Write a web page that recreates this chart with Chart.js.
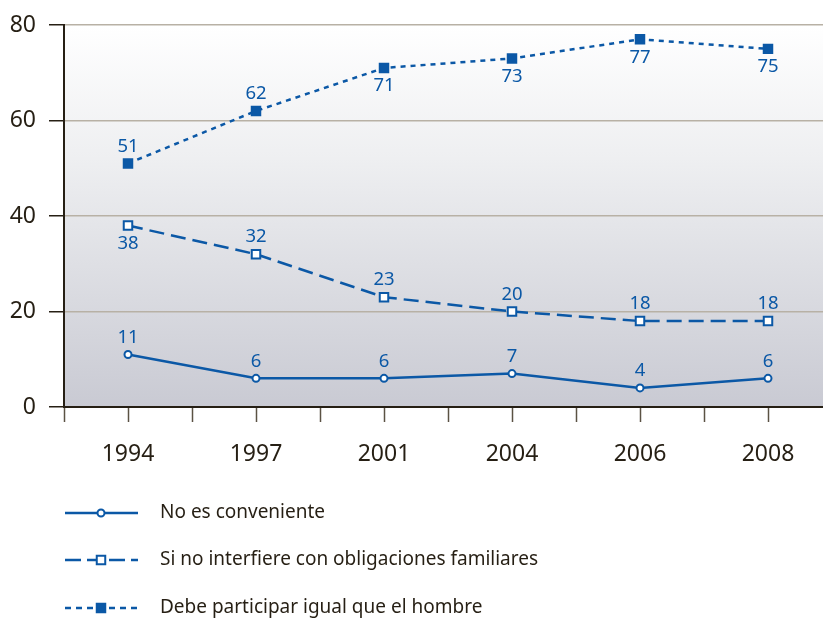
<!DOCTYPE html>
<html>
<head>
<meta charset="utf-8">
<script src="https://cdn.jsdelivr.net/npm/chart.js@4/dist/chart.umd.min.js"></script>
<style>
  html, body { margin: 0; padding: 0; background: #ffffff; }
  #wrap { width: 823px; height: 620px; position: relative; }
</style>
</head>
<body>
<div id="wrap"><canvas id="chart" width="823" height="620"></canvas></div>
<script>
// Survey years on the horizontal axis
const years = ['1994', '1997', '2001', '2004', '2006', '2008'];

// Percentages per answer
const noConveniente = [11, 6, 6, 7, 4, 6];
const siNoInterfiere = [38, 32, 23, 20, 18, 18];
const debeParticipar = [51, 62, 71, 73, 77, 75];

// Series names
const seriesNames = [
  'No es conveniente',
  'Si no interfiere con obligaciones familiares',
  'Debe participar igual que el hombre'
];

// Value-axis ticks
const yTicks = [0, 20, 40, 60, 80];

const BLUE = '#0b58a6';
const INK = '#261f14';
const FONT = '"Noto Sans", "Open Sans", sans-serif';

// Where each series puts its value labels relative to the point
const labelSide = [
  ['up', 'up', 'up', 'up', 'up', 'up'],
  ['down', 'up', 'up', 'up', 'up', 'up'],
  ['up', 'up', 'down', 'down', 'down', 'down']
];

const toPoints = arr => arr.map((v, i) => ({ x: i, y: v }));

// Soft vertical gradient behind the plot
const plotBackground = {
  id: 'plotBackground',
  beforeDraw(chart) {
    const { ctx, chartArea: a } = chart;
    const g = ctx.createLinearGradient(0, a.top, 0, a.bottom);
    g.addColorStop(0, '#ffffff');
    g.addColorStop(0.35, '#eeeff1');
    g.addColorStop(1, '#c9cad3');
    ctx.save();
    ctx.fillStyle = g;
    ctx.fillRect(a.left, a.top, a.right - a.left, a.bottom - a.top);
    ctx.restore();
  }
};

// Numbers next to each point
const valueLabels = {
  id: 'valueLabels',
  afterDatasetsDraw(chart) {
    const { ctx } = chart;
    ctx.save();
    ctx.font = '18.5px ' + FONT;
    ctx.fillStyle = BLUE;
    ctx.textAlign = 'center';
    ctx.textBaseline = 'middle';
    chart.data.datasets.forEach((ds, di) => {
      const meta = chart.getDatasetMeta(di);
      meta.data.forEach((pt, i) => {
        const side = labelSide[di][i];
        const dy = side === 'up' ? -17 : 18;
        ctx.fillText(String(ds.data[i].y), pt.x, pt.y + dy);
      });
    });
    ctx.restore();
  }
};

// Legend below the plot, drawn with each series' own line and marker style
const legendDash = [[], [16, 6], [6, 5]];
const bottomLegend = {
  id: 'bottomLegend',
  afterDraw(chart) {
    const { ctx } = chart;
    const x0 = 65, x1 = 138, xm = 101, tx = 160;
    const rows = [513, 560, 608];
    ctx.save();
    chart.data.datasets.forEach((ds, di) => {
      const y = rows[di];
      ctx.strokeStyle = ds.borderColor;
      ctx.lineWidth = ds.borderWidth;
      ctx.setLineDash(legendDash[di]);
      ctx.beginPath();
      ctx.moveTo(x0, y);
      ctx.lineTo(x1, y);
      ctx.stroke();
      ctx.setLineDash([]);
      ctx.fillStyle = ds.pointBackgroundColor;
      ctx.strokeStyle = ds.borderColor;
      ctx.lineWidth = ds.pointBorderWidth;
      ctx.beginPath();
      if (ds.pointStyle === 'circle') {
        ctx.arc(xm, y, ds.pointRadius, 0, Math.PI * 2);
      } else {
        const s = Math.SQRT1_2 * ds.pointRadius;
        ctx.rect(xm - s, y - s, 2 * s, 2 * s);
      }
      ctx.fill();
      ctx.stroke();
      ctx.fillStyle = INK;
      ctx.font = '19px ' + FONT;
      ctx.textAlign = 'left';
      ctx.textBaseline = 'middle';
      ctx.fillText(seriesNames[di], tx, y);
    });
    ctx.restore();
  }
};

const baseSet = {
  borderColor: BLUE,
  borderWidth: 2.5,
  tension: 0,
  pointBorderColor: BLUE,
  pointBorderWidth: 2,
  pointHoverRadius: 5
};

new Chart(document.getElementById('chart'), {
  type: 'line',
  data: {
    datasets: [
      Object.assign({}, baseSet, {
        label: seriesNames[0],
        data: toPoints(noConveniente),
        pointStyle: 'circle',
        pointRadius: 3.5,
        pointBackgroundColor: '#ffffff'
      }),
      Object.assign({}, baseSet, {
        label: seriesNames[1],
        data: toPoints(siNoInterfiere),
        borderDash: [15, 7],
        pointStyle: 'rect',
        pointRadius: 6,
        pointBackgroundColor: '#ffffff'
      }),
      Object.assign({}, baseSet, {
        label: seriesNames[2],
        data: toPoints(debeParticipar),
        borderDash: [5, 5],
        pointStyle: 'rect',
        pointRadius: 6,
        pointBackgroundColor: BLUE
      })
    ]
  },
  options: {
    responsive: false,
    animation: false,
    layout: {
      autoPadding: false,
      padding: { top: 25, left: 0, right: 0, bottom: 153 }
    },
    plugins: {
      legend: { display: false },
      tooltip: { enabled: false }
    },
    scales: {
      x: {
        type: 'linear',
        min: -0.5,
        max: (823 - 64) / 128 - 0.5,
        afterBuildTicks(scale) {
          const t = [];
          for (let v = -0.5; v <= years.length - 1 + 0.01; v += 0.5) t.push({ value: v });
          scale.ticks = t;
        },
        afterFit(scale) {
          scale.height = 60;
          scale.paddingLeft = 0;
          scale.paddingRight = 0;
        },
        grid: {
          drawOnChartArea: false,
          drawTicks: true,
          tickLength: 15,
          tickColor: '#5b5244',
          tickWidth: 1.5
        },
        border: { color: INK, width: 2 },
        ticks: {
          autoSkip: false,
          maxRotation: 0,
          padding: 19,
          color: INK,
          font: { family: FONT, size: 23 },
          callback: v => Number.isInteger(v) ? years[v] : ''
        }
      },
      y: {
        min: 0,
        max: 80,
        afterBuildTicks(scale) {
          scale.ticks = yTicks.map(v => ({ value: v }));
        },
        afterFit(scale) {
          scale.width = 64;
          scale.paddingTop = 0;
          scale.paddingBottom = 0;
        },
        grid: {
          color: '#b8b1a5',
          lineWidth: 1.5,
          tickLength: 15,
          tickColor: INK,
          tickWidth: 1.5
        },
        border: { color: INK, width: 2 },
        ticks: {
          padding: 13,
          color: INK,
          font: { family: FONT, size: 23 }
        }
      }
    }
  },
  plugins: [plotBackground, valueLabels, bottomLegend]
});
</script>
</body>
</html>
